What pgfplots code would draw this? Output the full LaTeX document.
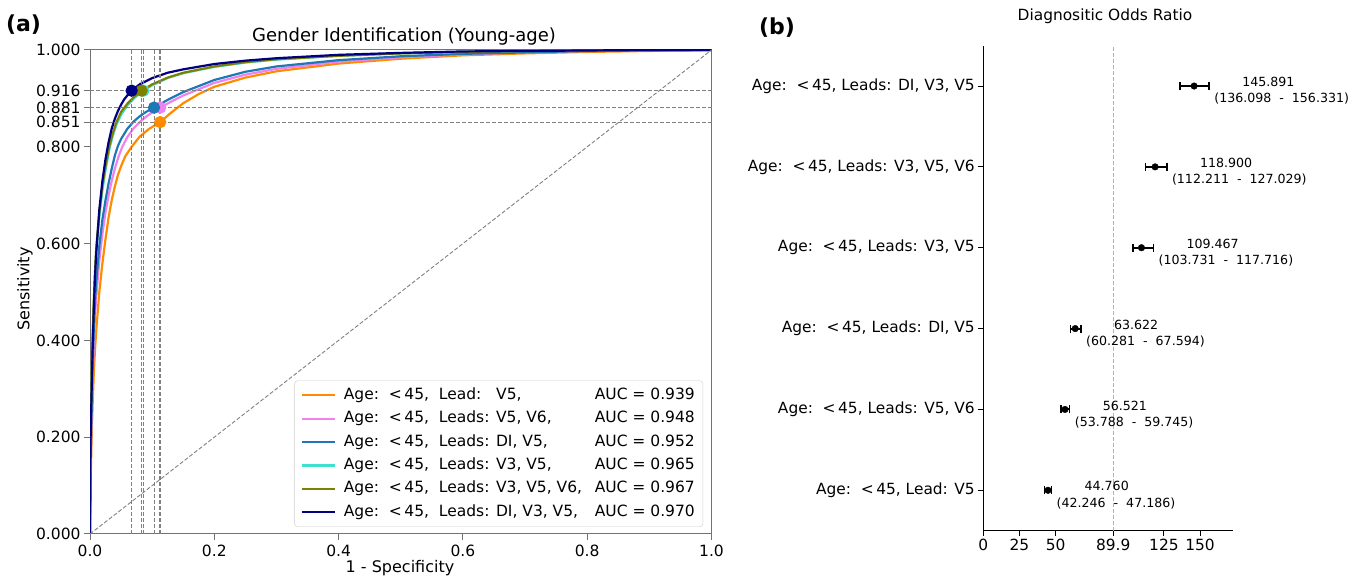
\documentclass[border=0pt]{standalone}
\usepackage{fontspec}
\setmainfont{DejaVu Sans}
\usepackage{pgfplots}
\usepackage{pgfplotstable}
\pgfplotsset{compat=1.18}

\definecolor{cOrange}{HTML}{FF8C00}
\definecolor{cViolet}{HTML}{EE82EE}
\definecolor{cBlue}{HTML}{1F77B4}
\definecolor{cTurq}{HTML}{40E0D0}
\definecolor{cOlive}{HTML}{808000}
\definecolor{cNavy}{HTML}{000080}
\definecolor{refgray}{HTML}{808080}

\newcommand{\fs}[2]{\fontsize{#1}{#2}\selectfont}

% value and confidence interval printed to the right of each interval
\newcommand{\dorlabel}[4]{%
  \node[anchor=base west, inner sep=0, font=\fs{12.6bp}{16bp}, xshift=33bp, yshift=-0.6bp]
    at (axis cs:#4,#1) {#2};
  \node[anchor=base west, inner sep=0, font=\fs{12.6bp}{16bp}, xshift=5bp, yshift=-16.9bp]
    at (axis cs:#4,#1) {(#3\ \ -\ \ #4)};
}

% Diagnostic odds ratios with 95% confidence intervals
\pgfplotstableread{
row dor     lo      hi
5   145.891 136.098 156.331
4   118.900 112.211 127.029
3   109.467 103.731 117.716
2   63.622  60.281  67.594
1   56.521  53.788  59.745
0   44.760  42.246  47.186
}\dortable

\begin{document}
\begin{tikzpicture}
\useasboundingbox (0,0) rectangle (1357bp,579bp);

% ---------------- (a) ROC curves ----------------
\begin{axis}[
  at={(90bp,45bp)}, anchor=south west,
  scale only axis, width=621.5bp, height=484bp,
  xmin=0, xmax=1, ymin=0, ymax=1,
  axis line style={black!55, line width=1bp},
  tick align=outside, xtick pos=lower, ytick pos=left,
  major tick length=6bp,
  every tick/.style={black!55, line width=1bp},
  xtick={0,0.2,0.4,0.6,0.8,1},
  xticklabels={0.0,0.2,0.4,0.6,0.8,1.0},
  ytick={0,0.2,0.4,0.6,0.8,0.851,0.881,0.916,1},
  yticklabels={0.000,0.200,0.400,0.600,0.800,0.851,0.881,0.916,1.000},
  ticklabel style={font=\fs{15.5bp}{18bp}},
  xticklabel style={yshift=-1bp},
  legend cell align=left,
  legend style={at={(1,0)}, anchor=south east, xshift=-8.5bp, yshift=7bp,
    draw=black!20, rounded corners=3bp, fill=white,
    font=\fs{15.5bp}{18bp}, row sep=4.4bp, inner xsep=6bp, inner ysep=5bp,
    nodes={inner sep=2bp, text height=11.5bp, text depth=3.5bp},
    /tikz/every odd column/.append style={column sep=6bp}},
  legend image code/.code={\draw[#1, line width=2.2bp] (0bp,0bp) -- (33bp,0bp);},
  every axis plot/.append style={line width=2.2bp},
]
\addplot[cOrange] coordinates {
(0,0) (0.0005,0.06) (0.001,0.10) (0.002,0.17) (0.004,0.26) (0.006,0.33)
(0.008,0.38) (0.01,0.42) (0.015,0.50) (0.02,0.56) (0.025,0.61) (0.03,0.655)
(0.035,0.69) (0.04,0.718) (0.045,0.742) (0.05,0.76) (0.057,0.781) (0.067,0.80)
(0.08,0.821) (0.095,0.837) (0.113,0.851) (0.13,0.870) (0.15,0.890) (0.175,0.909)
(0.2,0.924) (0.25,0.943) (0.3,0.956) (0.4,0.972) (0.5,0.982) (0.6,0.989)
(0.7,0.993) (0.8,0.996) (0.9,0.998) (1,1)};
\addlegendentry{\makebox[251bp][l]{Age:\ \ <\,45,\ \ Lead:\ \ \ V5,}AUC = 0.939}

\addplot[cViolet] coordinates {
(0,0) (0.0005,0.08) (0.001,0.13) (0.002,0.21) (0.004,0.31) (0.006,0.39)
(0.008,0.45) (0.01,0.49) (0.015,0.565) (0.02,0.62) (0.025,0.665) (0.03,0.70)
(0.035,0.73) (0.04,0.755) (0.046,0.78) (0.052,0.80) (0.06,0.82) (0.07,0.838)
(0.08,0.851) (0.09,0.862) (0.1,0.871) (0.113,0.881) (0.13,0.893) (0.15,0.906)
(0.2,0.932) (0.25,0.949) (0.3,0.961) (0.4,0.976) (0.5,0.985) (0.6,0.991)
(0.7,0.995) (0.8,0.998) (0.9,0.999) (1,1)};
\addlegendentry{\makebox[251bp][l]{Age:\ \ <\,45,\ \ Leads: V5, V6,}AUC = 0.948}

\addplot[cBlue] coordinates {
(0,0) (0.0005,0.09) (0.001,0.15) (0.002,0.23) (0.004,0.34) (0.006,0.42)
(0.008,0.48) (0.01,0.52) (0.015,0.595) (0.02,0.65) (0.025,0.69) (0.03,0.725)
(0.035,0.755) (0.04,0.782) (0.045,0.802) (0.05,0.816) (0.06,0.837) (0.07,0.852)
(0.08,0.863) (0.09,0.872) (0.103,0.881) (0.125,0.897) (0.15,0.913) (0.2,0.938)
(0.25,0.955) (0.3,0.966) (0.4,0.979) (0.5,0.987) (0.6,0.992) (0.7,0.995)
(0.8,0.998) (0.9,0.999) (1,1)};
\addlegendentry{\makebox[251bp][l]{Age:\ \ <\,45,\ \ Leads: DI, V5,}AUC = 0.952}

\addplot[cTurq] coordinates {
(0,0) (0.0005,0.11) (0.001,0.18) (0.002,0.27) (0.004,0.39) (0.006,0.47)
(0.008,0.53) (0.01,0.58) (0.015,0.655) (0.02,0.71) (0.025,0.752) (0.032,0.80)
(0.037,0.824) (0.043,0.847) (0.05,0.866) (0.06,0.885) (0.07,0.899) (0.086,0.916)
(0.1,0.927) (0.125,0.942) (0.15,0.952) (0.2,0.965) (0.25,0.974) (0.3,0.980)
(0.4,0.988) (0.5,0.993) (0.6,0.996) (0.7,0.998) (0.8,0.999) (0.9,1) (1,1)};
\addlegendentry{\makebox[251bp][l]{Age:\ \ <\,45,\ \ Leads: V3, V5,}AUC = 0.965}

\addplot[cOlive] coordinates {
(0,0) (0.0005,0.12) (0.001,0.19) (0.002,0.28) (0.004,0.40) (0.006,0.48)
(0.008,0.54) (0.01,0.59) (0.015,0.665) (0.02,0.72) (0.025,0.76) (0.031,0.80)
(0.036,0.825) (0.042,0.849) (0.05,0.872) (0.06,0.889) (0.07,0.902) (0.083,0.916)
(0.1,0.929) (0.125,0.943) (0.15,0.953) (0.2,0.966) (0.25,0.975) (0.3,0.981)
(0.4,0.988) (0.5,0.993) (0.6,0.996) (0.7,0.998) (0.8,0.999) (0.9,1) (1,1)};
\addlegendentry{\makebox[251bp][l]{Age:\ \ <\,45,\ \ Leads: V3, V5, V6,}AUC = 0.967}

\addplot[cNavy] coordinates {
(0,0) (0.0005,0.14) (0.001,0.20) (0.002,0.26) (0.004,0.37) (0.006,0.46)
(0.008,0.53) (0.01,0.58) (0.015,0.67) (0.02,0.73) (0.025,0.775) (0.03,0.81)
(0.035,0.838) (0.04,0.858) (0.045,0.874) (0.05,0.887) (0.055,0.898) (0.06,0.906)
(0.067,0.916) (0.08,0.929) (0.1,0.942) (0.125,0.953) (0.15,0.960) (0.2,0.971)
(0.25,0.978) (0.3,0.983) (0.4,0.990) (0.5,0.994) (0.6,0.997) (0.7,0.998)
(0.8,0.999) (0.9,1) (1,1)};
\addlegendentry{\makebox[251bp][l]{Age:\ \ <\,45,\ \ Leads: DI, V3, V5,}AUC = 0.970}

% chance line
\addplot[forget plot, refgray, line width=0.9bp, dash pattern=on 4bp off 2bp]
  coordinates {(0,0) (1,1)};

% operating points
\addplot[forget plot, only marks, mark=*, mark size=5bp, cOrange] coordinates {(0.113,0.851)};
\addplot[forget plot, only marks, mark=*, mark size=5bp, cViolet] coordinates {(0.113,0.881)};
\addplot[forget plot, only marks, mark=*, mark size=5bp, cBlue] coordinates {(0.103,0.881)};
\addplot[forget plot, only marks, mark=*, mark size=5bp, cTurq] coordinates {(0.086,0.916)};
\addplot[forget plot, only marks, mark=*, mark size=5bp, cOlive] coordinates {(0.083,0.916)};
\addplot[forget plot, only marks, mark=*, mark size=5bp, cNavy] coordinates {(0.067,0.916)};

% reference lines through the operating points
\pgfplotsinvokeforeach{0.067,0.083,0.086,0.103,0.1125,0.1135}{
  \addplot[forget plot, refgray, line width=0.9bp, dash pattern=on 4bp off 2bp]
    coordinates {(#1,0) (#1,1)};
}
\pgfplotsinvokeforeach{0.9155,0.916,0.9165,0.8807,0.8813,0.851}{
  \addplot[forget plot, refgray, line width=0.9bp, dash pattern=on 4bp off 2bp]
    coordinates {(0,#1) (1,#1)};
}
\end{axis}

\node[font=\fs{18bp}{21bp}] at (404bp,542.3bp) {Gender Identification (Young-age)};
\node[font=\fs{16bp}{19bp}] at (400bp,11bp) {1 - Specificity};
\node[font=\fs{16bp}{19bp}, rotate=90] at (25bp,290bp) {Sensitivity};
\node[font=\fs{22bp}{26bp}\bfseries] at (23.5bp,554bp) {(a)};

% ---------------- (b) forest plot ----------------
\begin{axis}[
  at={(983.3bp,48.3bp)}, anchor=south west,
  scale only axis, width=249.4bp, height=485.1bp,
  xmin=0, xmax=172.6, ymin=-0.5, ymax=5.5,
  axis x line*=bottom, axis y line*=left,
  axis line style={black, line width=1.1bp},
  tick align=outside, major tick length=5bp,
  every tick/.style={black, line width=1bp},
  xtick={0,25,50,89.9,125,150},
  xticklabels={0,25,50,89.9,125,150},
  ytick={0,1,2,3,4,5},
  yticklabels={
    {Age:\ \ <\,45, Lead: V5},
    {Age:\ \ <\,45, Leads: V5, V6},
    {Age:\ \ <\,45, Leads: DI, V5},
    {Age:\ \ <\,45, Leads: V3, V5},
    {Age:\ \ <\,45, Leads: V3, V5, V6},
    {Age:\ \ <\,45, Leads: DI, V3, V5}},
  ticklabel style={font=\fs{15.4bp}{18bp}},
  clip=false,
]
\addplot[black!30, line width=0.8bp, dash pattern=on 4bp off 2bp]
  coordinates {(89.9,-0.5) (89.9,5.5)};
\addplot[black, only marks, mark=*, mark size=3.3bp,
  error bars/.cd, x dir=both, x explicit,
  error bar style={line width=2bp, black},
  error mark options={rotate=90, mark size=4bp, line width=1.5bp, black}]
  table[x=dor, y=row,
        x error plus expr=\thisrow{hi}-\thisrow{dor},
        x error minus expr=\thisrow{dor}-\thisrow{lo}] {\dortable};

\dorlabel{5}{145.891}{136.098}{156.331}
\dorlabel{4}{118.900}{112.211}{127.029}
\dorlabel{3}{109.467}{103.731}{117.716}
\dorlabel{2}{63.622}{60.281}{67.594}
\dorlabel{1}{56.521}{53.788}{59.745}
\dorlabel{0}{44.760}{42.246}{47.186}
\end{axis}

\node[font=\fs{15.4bp}{18bp}] at (1105bp,563bp) {Diagnositic Odds Ratio};
\node[font=\fs{22bp}{26bp}\bfseries] at (777bp,551bp) {(b)};
\end{tikzpicture}
\end{document}
